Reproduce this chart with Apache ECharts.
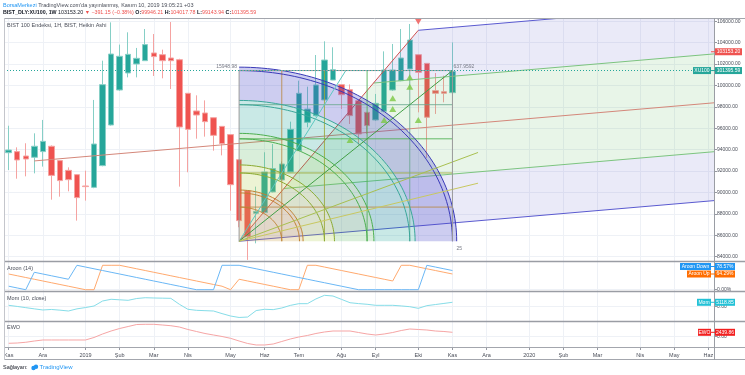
<!DOCTYPE html>
<html>
<head>
<meta charset="utf-8">
<script src="https://cdn.jsdelivr.net/npm/echarts@6/dist/echarts.min.js"></script>
<style>html,body{margin:0;padding:0;background:#fff;}#c{width:745px;height:375px;}</style>
</head>
<body>
<div id="c"></div>
<script>
// ---------------- data ----------------
const candleOpen = [93720,93820,93410,93290,93820,94320,92980,92070,91670,90610,
  90480,92510,96310,99580,101170,102010,102320,103040,102880,102570,
  102410,99270,97620,97430,96990,96180,95410,93070,90170,88050,
  88120,90050,91170,91920,93910,96560,97180,98650,100510,100080,
  99610,98580,97490,96780,97590,99580,100450,101540,102880,102070,
  99520,99420,99330];
const candleClose = [93970,93040,93130,94320,94780,91600,91110,91200,89520,90550,
  94530,100080,102940,102730,102910,102540,103820,102700,102320,102320,
  96120,95900,97240,96620,95340,94570,90730,87370,85870,88240,
  91920,92230,92660,95900,99270,97800,100050,102380,101480,99140,
  97180,95470,96250,98330,101450,101450,102570,104250,101230,97030,
  99270,99270,101320];
const candleLow = [92100,91290,91510,91790,92420,89330,89610,90110,87370,89240,
  90400,92450,96250,99500,100760,100760,102300,100890,100670,99670,
  90550,91890,95030,95220,93910,93470,88300,86750,83700,85250,
  88100,90000,91100,91900,93900,96090,97100,98600,100500,97800,
  96400,94470,95470,96700,97500,99500,100400,101500,97490,93230,
  97340,98430,99300];
const candleHigh = [96240,94220,94600,95530,96780,94400,93000,92350,91700,92040,
  98650,102320,105900,103820,104970,103510,105280,104810,103350,105930,
  102500,99300,99080,98610,97000,96200,95450,93100,90200,90550,
  93760,94530,92900,96620,100450,99890,102850,104130,103570,100100,
  100100,98600,97500,99210,103190,103880,105280,105750,102900,102100,
  101170,100920,104030];
const aroonUp = [64.29,57.14,50,42.86,35.71,28.57,21.43,14.29,7.14,0,
  0,100,100,100,92.86,85.71,78.57,71.43,64.29,57.14,
  50,42.86,35.71,28.57,21.43,14.29,0,42.86,35.71,28.57,
  21.43,14.29,7.14,0,0,100,100,92.86,85.71,78.57,
  71.43,64.29,57.14,50,42.86,35.71,100,100,92.86,85.71,
  78.57,71.43,64.29];
const aroonDown = [14.29,7.14,0,71.43,64.29,57.14,50,42.86,100,92.86,
  85.71,78.57,71.43,64.29,57.14,50,42.86,35.71,28.57,21.43,
  14.29,7.14,0,0,0,100,100,100,92.86,85.71,
  78.57,71.43,64.29,57.14,50,42.86,35.71,28.57,21.43,14.29,
  7.14,0,0,0,0,0,0,0,0,100,
  92.86,85.71,78.57];
const momValues = [1600,300,-1100,-2500,-3800,-3200,-4000,-5000,-2500,-1000,
  800,6600,8600,8000,7400,9500,10400,10100,9900,9700,
  2800,-3000,-4200,-4600,-5000,-8000,-10800,-12500,-12000,-4500,
  -3000,-3400,-1500,1500,3500,3500,9000,13200,12400,8500,
  4600,3600,2800,1600,1600,1600,900,0,-1900,1200,
  2500,3800,5118.85];
const ewoValues = [-3660,-3500,-3100,-2400,-1830,-1830,-1830,-1830,-1830,-1830,
  -440,1500,3160,4550,5660,6770,6880,6880,6500,6100,
  5380,4000,2890,1780,940,110,-890,-2390,-3770,-4600,
  -4600,-4050,-2660,-1280,-170,670,1780,2610,3160,3160,
  3160,2330,1500,940,1500,2330,3440,4270,4000,3720,
  3160,2890,2439.86];
const monthIdx = [0,4,9,13,17,21,26,30,34,39,43,48,52,56,61,65,69,74,78,82];
const monthLbl = ['Kas','Ara','2019','Şub','Mar','Nis','May','Haz','Tem','Ağu','Eyl','Eki','Kas','Ara','2020','Şub','Mar','Nis','May','Haz'];
const priceTicks = [84000,86000,88000,90000,92000,94000,96000,98000,100000,102000,104000,106000];
const lastPrice = 101395.59;
const livePrice = 103153.20;
const buySignals = [[40,94900],[44,96780],[45,97800],[45,98800],[47,99890],[47,100770],[48,96780]];
const sellSignals = [[48,105980]];
const gannOrigin = [27, 85446.61];
const gannBars = 25;
const gannRange = 15948.98;
const gannArcs = [0.2,0.283,0.3,0.4,0.447,0.6,0.632,0.8,0.825,1.0,1.02];
const gannLevels = [0.2,0.4,0.6,0.8];
const gannFans = [[0.5,1],[1,1],[1.12,0.52],[1.12,0.34]];
const pfA = [3, 92950], pfB = [48, 105159], pfC = [27, 85446.61];

// ---------------- styles ----------------
const FONT = "'Liberation Sans', Arial, sans-serif";
const X_MIN = -0.55, X_MAX = 82.65;
const TXT = '#4a4e59';
const GRIDC = '#eef1f6';
const bandStyle = [
  [0, 0.3, 'rgba(205,165,80,0.28)'],
  [0.3, 0.447, 'rgba(170,200,60,0.22)'],
  [0.447, 0.632, 'rgba(76,175,80,0.21)'],
  [0.632, 0.825, 'rgba(0,150,136,0.21)'],
  [0.825, 1.02, 'rgba(70,70,200,0.27)']
];
function arcColor(r){
  if (r <= 0.3) return '#c08030';
  if (r <= 0.45) return '#8aaa30';
  if (r <= 0.65) return '#4caf50';
  if (r <= 0.83) return '#3aa79a';
  return '#3a3ab8';
}
const levelColor = {0.2:'#b98a48', 0.4:'#9aa83a', 0.6:'#4caf50', 0.8:'#6aa890'};
const fanColor = ['#5cc8c0','#43a047','#a8c050','#c8c860'];

function renderGann(params, api){
  const pt = (fx, fy) => api.coord([gannOrigin[0] + fx*gannBars, gannOrigin[1] + fy*gannRange]);
  const arc = r => { const a=[]; for(let k=0;k<=60;k++){const t=k/60*Math.PI/2; a.push(pt(r*Math.cos(t), r*Math.sin(t)));} return a; };
  const ch = [];
  bandStyle.forEach(b => {
    const outer = arc(b[1]);
    const inner = b[0] > 0 ? arc(b[0]).reverse() : [pt(0,0)];
    ch.push({type:'polygon', shape:{points: outer.concat(inner)}, style:{fill:b[2]}});
  });
  gannLevels.forEach(l => {
    ch.push({type:'line', shape:{x1:pt(l,0)[0], y1:pt(l,0)[1], x2:pt(l,1)[0], y2:pt(l,1)[1]}, style:{stroke:levelColor[l], lineWidth:1, opacity:0.85}});
    ch.push({type:'line', shape:{x1:pt(0,l)[0], y1:pt(0,l)[1], x2:pt(1,l)[0], y2:pt(1,l)[1]}, style:{stroke:levelColor[l], lineWidth:1, opacity:0.85}});
  });
  gannArcs.forEach(r => {
    ch.push({type:'polyline', shape:{points: arc(r)}, style:{stroke:arcColor(r), lineWidth:1, fill:null}});
  });
  gannFans.forEach((f,i) => {
    const o = pt(0,0), e = pt(f[0], f[1]);
    ch.push({type:'line', shape:{x1:o[0], y1:o[1], x2:e[0], y2:e[1]}, style:{stroke:fanColor[i], lineWidth:1}});
  });
  ch.push({type:'polyline', shape:{points:[pt(0,0),pt(0,1),pt(1,1),pt(1,0)]}, style:{stroke:'#9a9a9a', lineWidth:1, fill:null}});
  const tl = pt(0,1), tr = pt(1,1), br = pt(1,0);
  ch.push({type:'text', x:tl[0]-2, y:tl[1]-4, style:{text:gannRange.toFixed(2), fill:'#787b86', fontSize:5, fontFamily:FONT, align:'right', verticalAlign:'middle'}});
  ch.push({type:'text', x:tr[0]+1, y:tr[1]-4, style:{text:(gannRange/gannBars).toFixed(4), fill:'#787b86', fontSize:5, fontFamily:FONT, align:'left', verticalAlign:'middle'}});
  ch.push({type:'text', x:br[0]+4, y:br[1]+7, style:{text:String(gannBars), fill:'#787b86', fontSize:5, fontFamily:FONT, align:'left', verticalAlign:'middle'}});
  return {type:'group', children: ch};
}

function renderPitchfork(params, api){
  const M = [(pfB[0]+pfC[0])/2, (pfB[1]+pfC[1])/2];
  const s = (M[1]-pfA[1])/(M[0]-pfA[0]);
  const G1 = [(pfB[0]+M[0])/2, (pfB[1]+M[1])/2];
  const G2 = [(pfC[0]+M[0])/2, (pfC[1]+M[1])/2];
  const ext = p => [X_MAX, p[1] + (X_MAX-p[0])*s];
  const c = p => api.coord(p);
  const ln = (p, q, col) => { const a=c(p), b=c(q); return {type:'line', shape:{x1:a[0],y1:a[1],x2:b[0],y2:b[1]}, style:{stroke:col, lineWidth:1}}; };
  const lav = 'rgba(90,90,200,0.13)', grn = 'rgba(76,175,80,0.13)';
  return {type:'group', children:[
    {type:'polygon', shape:{points:[c(pfB), c(ext(pfB)), c(ext(G1)), c(G1)]}, style:{fill:lav}},
    {type:'polygon', shape:{points:[c(G1), c(ext(G1)), c(ext(G2)), c(G2)]}, style:{fill:grn}},
    {type:'polygon', shape:{points:[c(G2), c(ext(G2)), c(ext(pfC)), c(pfC)]}, style:{fill:lav}},
    ln(pfB, ext(pfB), '#5a5ad0'),
    ln(pfC, ext(pfC), '#5a5ad0'),
    ln(G1, ext(G1), '#7cc47f'),
    ln(G2, ext(G2), '#7cc47f'),
    ln(pfA, ext(M), '#d4877a'),
    ln(pfC, pfB, '#d05050')
  ]};
}

const idx = candleOpen.map((_, i) => i);
const grids = [
  {left:4, right:31, top:18, height:243},
  {left:4, right:31, top:262, height:29},
  {left:4, right:31, top:292, height:29},
  {left:4, right:31, top:322, height:25}
];
const xAxes = grids.map((g, gi) => ({
  type:'value', gridIndex:gi, min:X_MIN, max:X_MAX,
  axisLine:{show:false, onZero:false},
  axisTick:{show: gi===3, customValues: monthIdx, length:3, lineStyle:{color:'#9598a1'}},
  axisLabel:{show: gi===3, customValues: monthIdx, formatter: v => { const k = monthIdx.indexOf(Math.round(v)); return k>=0 ? monthLbl[k] : ''; }, fontSize:5.5, color:TXT, margin:5, fontFamily:FONT},
  splitLine:{show:true, lineStyle:{color:GRIDC, width:1}}
}));
function yAx(gi, min, max, ticks, fmt){
  return {type:'value', gridIndex:gi, position:'right', min, max,
    axisLine:{show:false, onZero:false},
    axisTick:{show:true, customValues:ticks, length:3, lineStyle:{color:'#9598a1'}},
    axisLabel:{customValues:ticks, formatter: fmt, fontSize:5, color:TXT, margin:3, fontFamily:FONT},
    splitLine:{show:true, lineStyle:{color:GRIDC}}};
}
const yAxes = [
  yAx(0, 83598, 106308, priceTicks, v => v.toFixed(2)),
  yAx(1, -5.3, 113.5, [0], () => '0.00%'),
  yAx(2, -16590, 17050, [0], () => '0.00'),
  yAx(3, -5720, 8160, [0], () => '0.00')
];

const option = {
  animation:false,
  backgroundColor:'#ffffff',
  grid: grids,
  xAxis: xAxes,
  yAxis: yAxes,
  series: [
    {type:'candlestick', name:'XU100', xAxisIndex:0, yAxisIndex:0, z:2,
     dimensions:['i','open','close','low','high'],
     encode:{x:'i', y:['open','close','low','high']},
     data: idx.map(i => [i, candleOpen[i], candleClose[i], candleLow[i], candleHigh[i]]),
     barWidth:6,
     itemStyle:{color:'#26a69a', color0:'#ef5350', borderColor:'#86cfc6', borderColor0:'#f5a3a1', borderWidth:1},
     markLine:{silent:true, symbol:'none', label:{show:false}, lineStyle:{color:'#26a69a', type:[1,2], width:1},
       data:[{yAxis:lastPrice}]}
    },
    {type:'custom', name:'pitchfork', xAxisIndex:0, yAxisIndex:0, z:3, clip:true, silent:true,
     data:[[pfA[0], pfA[1]]], encode:{x:0, y:1}, renderItem: renderPitchfork},
    {type:'custom', name:'gann', xAxisIndex:0, yAxisIndex:0, z:4, clip:true, silent:true,
     data:[[gannOrigin[0], gannOrigin[1]]], encode:{x:0, y:1}, renderItem: renderGann},
    {type:'scatter', name:'buy', xAxisIndex:0, yAxisIndex:0, z:6, symbol:'triangle', symbolSize:[7,6],
     itemStyle:{color:'#7cc843'}, data: buySignals},
    {type:'scatter', name:'sell', xAxisIndex:0, yAxisIndex:0, z:6, symbol:'triangle', symbolRotate:180, symbolSize:[7,6],
     itemStyle:{color:'#ef5350'}, data: sellSignals},
    {type:'line', name:'Aroon Up', xAxisIndex:1, yAxisIndex:1, showSymbol:false, symbol:'none',
     lineStyle:{color:'#ffa96e', width:1}, data: idx.map(i => [i, aroonUp[i]])},
    {type:'line', name:'Aroon Down', xAxisIndex:1, yAxisIndex:1, showSymbol:false, symbol:'none',
     lineStyle:{color:'#6ab7f5', width:1}, data: idx.map(i => [i, aroonDown[i]])},
    {type:'line', name:'Mom', xAxisIndex:2, yAxisIndex:2, showSymbol:false, symbol:'none',
     lineStyle:{color:'#86dde8', width:1}, data: idx.map(i => [i, momValues[i]])},
    {type:'line', name:'EWO', xAxisIndex:3, yAxisIndex:3, showSymbol:false, symbol:'none',
     lineStyle:{color:'#f6a5a5', width:1}, data: idx.map(i => [i, ewoValues[i]])}
  ]
};

const chart = echarts.init(document.getElementById('c'), null, {renderer:'canvas', width:745, height:375});
chart.setOption(option);

// ---- annotations placed through the axes ----
const toPx = (g, x, y) => chart.convertToPixel({xAxisIndex:g, yAxisIndex:g}, [x, y]);
const last = idx.length - 1;
const g = [];
function hline(x1, y1, x2, y2, col, w){ g.push({type:'line', z:50, silent:true, shape:{x1,y1,x2,y2}, style:{stroke:col, lineWidth:w||1}}); }
function tagBox(x1, x2, yc, color, text){
  g.push({type:'rect', z:60, silent:true, shape:{x:x1, y:yc-3.5, width:x2-x1, height:7}, style:{fill:color}});
  g.push({type:'text', z:61, silent:true, x:(x1+x2)/2, y:yc, style:{text, fill:'#ffffff', fontSize:5, fontFamily:FONT, align:'center', verticalAlign:'middle'}});
}
function tag(nameText, valText, xName, xEnd, yc, color){
  if (nameText){ tagBox(xName, 711, yc, color, nameText); }
  hline(711, yc, 715, yc, color, 1);
  tagBox(715, xEnd, yc, color, valText);
}
// frame and pane separators
hline(4, 18.5, 745, 18.5, '#a3a6ad');
hline(4, 261.5, 745, 261.5, '#9a9da4', 1.5);
hline(4, 291.5, 745, 291.5, '#9a9da4', 1.5);
hline(4, 321.5, 745, 321.5, '#9a9da4', 1.5);
hline(4, 347.5, 745, 347.5, '#a3a6ad');
hline(4, 359.5, 745, 359.5, '#a3a6ad');
hline(4.5, 18, 4.5, 360, '#c4c6cc');
hline(714.5, 18, 714.5, 360, '#9a9da4');

const yLive = toPx(0, last, livePrice)[1];
const yLast = toPx(0, last, lastPrice)[1];
tag(null, livePrice.toFixed(2), 0, 742, yLive, '#ef5350');
tag('XU100', lastPrice.toFixed(2), 693, 742, yLast, '#26a69a');
const yUp = toPx(1, last, aroonUp[last])[1];
let yDown = toPx(1, last, aroonDown[last])[1];
if (Math.abs(yDown - yUp) < 7.5) yDown = yUp - 7.5;
tag('Aroon Down', aroonDown[last].toFixed(2) + '%', 680, 735, yDown, '#2196f3');
tag('Aroon Up', aroonUp[last].toFixed(2) + '%', 687, 735, yUp, '#ff6d00');
tag('Mom', momValues[last].toFixed(2), 697, 735, toPx(2, last, momValues[last])[1], '#22c1d6');
tag('EWO', ewoValues[last].toFixed(2), 698, 735, toPx(3, last, ewoValues[last])[1], '#f21f1f');

// header / legends / footer text
const t = (x, y, text, rich, extra) => g.push(Object.assign({type:'text', z:70, silent:true, x, y,
  style:{text, rich, fontSize:5.5, fontFamily:FONT, fill:TXT, align:'left', verticalAlign:'middle'}}, extra||{}));
t(3, 5, "{a|BorsaMerkezi} {b|TradingView.com'da yayınlanmış, Kasım 10, 2019 19:05:21 +03}",
  {a:{fill:'#2196f3', fontSize:5.5, fontFamily:FONT}, b:{fill:TXT, fontSize:5.5, fontFamily:FONT}});
t(3, 12.5, '{k|BIST_DLY:XU100, 1W} {n|103153.20} {r|▼ −391.15 (−0.38%)} {k|O:}{r|99946.21} {k|H:}{r|104017.78} {k|L:}{r|99143.94} {k|C:}{r|101395.59}',
  {k:{fill:'#131722', fontWeight:'bold', fontSize:5.3, fontFamily:FONT},
   n:{fill:'#131722', fontSize:5.3, fontFamily:FONT},
   r:{fill:'#ef5350', fontSize:5.3, fontFamily:FONT}});
t(7, 25, 'BIST 100 Endeksi, 1H, BIST, Heikin Ashi');
t(7, 268.5, 'Aroon (14)');
t(7, 298.5, 'Mom (10, close)');
t(7, 327, 'EWO');
t(3, 367.5, 'Sağlayan:', null, {style:{text:'Sağlayan:', fontSize:5.5, fontFamily:FONT, fill:'#131722', align:'left', verticalAlign:'middle'}});
g.push({type:'circle', z:70, silent:true, shape:{cx:33.5, cy:368, r:2.2}, style:{fill:'#2196f3'}});
g.push({type:'circle', z:70, silent:true, shape:{cx:36, cy:366.8, r:2.2}, style:{fill:'#2196f3'}});
t(39.5, 367.5, 'TradingView', null, {style:{text:'TradingView', fontSize:6, fontFamily:FONT, fill:'#2196f3', align:'left', verticalAlign:'middle'}});

chart.setOption({graphic: g});
</script>
</body>
</html>
